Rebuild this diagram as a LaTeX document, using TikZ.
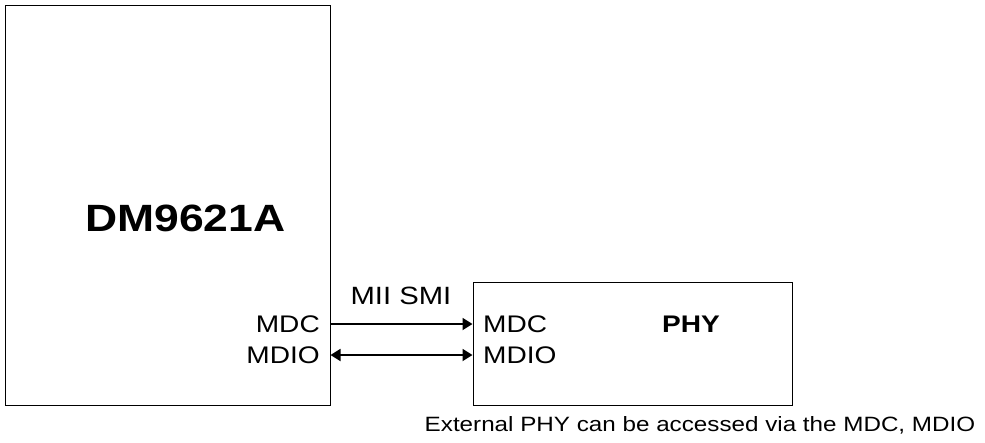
\documentclass[tikz,border=0pt]{standalone}
\usepackage{fontspec}
\setmainfont{Liberation Sans}[FakeStretch=1.17]
\usetikzlibrary{arrows.meta}
\tikzset{
  chip/.style={draw, line width=1pt, inner sep=0pt},
  pin/.style={font=\fontsize{24}{24}\selectfont, inner sep=0pt},
  bus/.style={line width=1.8pt},
}

\begin{document}
\begin{tikzpicture}[x=1pt,y=-1pt]
    \useasboundingbox (0,0) rectangle (985,442);
    \node[chip, minimum width=325pt, minimum height=400pt] (dm) at (167.5,205) {};
    \node[font=\fontsize{38}{38}\selectfont\bfseries, inner sep=0pt] (dmname) at (185.5,218) {DM9621A};
    \node[chip, minimum width=319pt, minimum height=123pt] (phy) at (632.5,343.5) {};
    \node[font=\fontsize{24}{24}\selectfont\bfseries, inner sep=0pt] (phyname) at (691,324) {PHY};
    % pins on either side
    \node[pin, anchor=east] (dmMDC) at (320,324) {MDC};
    \node[pin, anchor=east] (dmMDIO) at (320,355) {MDIO};
    \node[pin, anchor=west] (phyMDC) at (483,324) {MDC};
    \node[pin, anchor=west] (phyMDIO) at (483,355) {MDIO};
    \node[pin, font=\fontsize{25}{25}\selectfont] (smi) at (401,296) {MII SMI};
    \draw[bus, -{Triangle[length=10pt,width=12pt]}] (dmMDC.east -| dm.east) -- (phyMDC.west -| phy.west);
    \draw[bus, {Triangle[length=10pt,width=12pt]}-{Triangle[length=10pt,width=12pt]}] (dmMDIO.east -| dm.east) -- (phyMDIO.west -| phy.west);
    \node[font=\fontsize{20.7}{20.7}\selectfont, inner sep=0pt] (note) at (700,425) {External PHY can be accessed via the MDC, MDIO};
\end{tikzpicture}
\end{document}
